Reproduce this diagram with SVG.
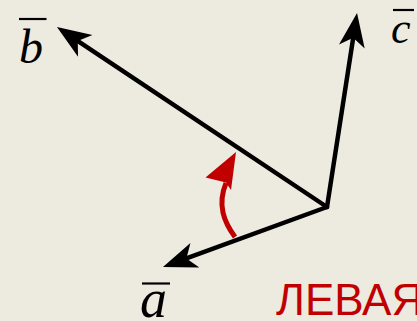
<svg xmlns="http://www.w3.org/2000/svg" width="417" height="321" viewBox="0 0 417 321">
<style>
.vec{fill:none;stroke:#000;stroke-width:4.5;stroke-linecap:round;stroke-linejoin:round}
.lbl{font-family:"Liberation Serif","DejaVu Serif",serif;font-style:italic;fill:#000}
.bar{stroke:#000;stroke-width:2.2}
.red{font-family:"Liberation Sans",Arial,sans-serif;fill:#c00000}
</style>
<defs>
<marker id="ah" markerUnits="userSpaceOnUse" markerWidth="40" markerHeight="30" viewBox="0 -15 40 30" refX="20" refY="0" orient="auto">
<path d="M34,0 L0,-13 L9,0 L0,13 Z" fill="#000"/>
</marker>
</defs>
<rect width="417" height="321" fill="#edeae0"/>
<g id="connectors">
<line class="vec" x1="327" y1="207" x2="176.1" y2="262.2" marker-end="url(#ah)"/>
<line class="vec" x1="327" y1="207" x2="68.6" y2="34.8" marker-end="url(#ah)"/>
<line class="vec" x1="327" y1="207" x2="354.9" y2="26.8" marker-end="url(#ah)"/>
<path d="M235,237 C224,222 217,205 226,183" fill="none" stroke="#c00000" stroke-width="5"/>
<polygon points="236,152 205.5,177.5 226,182.5 231,190" fill="#c00000"/>
</g>
<g id="label-b">
<line class="bar" x1="19" y1="19" x2="46.5" y2="19"/>
<text class="lbl" x="19" y="63" font-size="48">b</text>
</g>
<g id="label-c">
<line class="bar" x1="393" y1="10" x2="414" y2="10"/>
<text class="lbl" x="391" y="43" font-size="44">c</text>
</g>
<g id="label-a">
<line class="bar" x1="142" y1="283.5" x2="170" y2="283.5"/>
<text class="lbl" x="140" y="317" font-size="54">a</text>
</g>
<g id="label-left">
<text class="red" x="276" y="315" font-size="44">ЛЕВАЯ</text>
</g>
</svg>
